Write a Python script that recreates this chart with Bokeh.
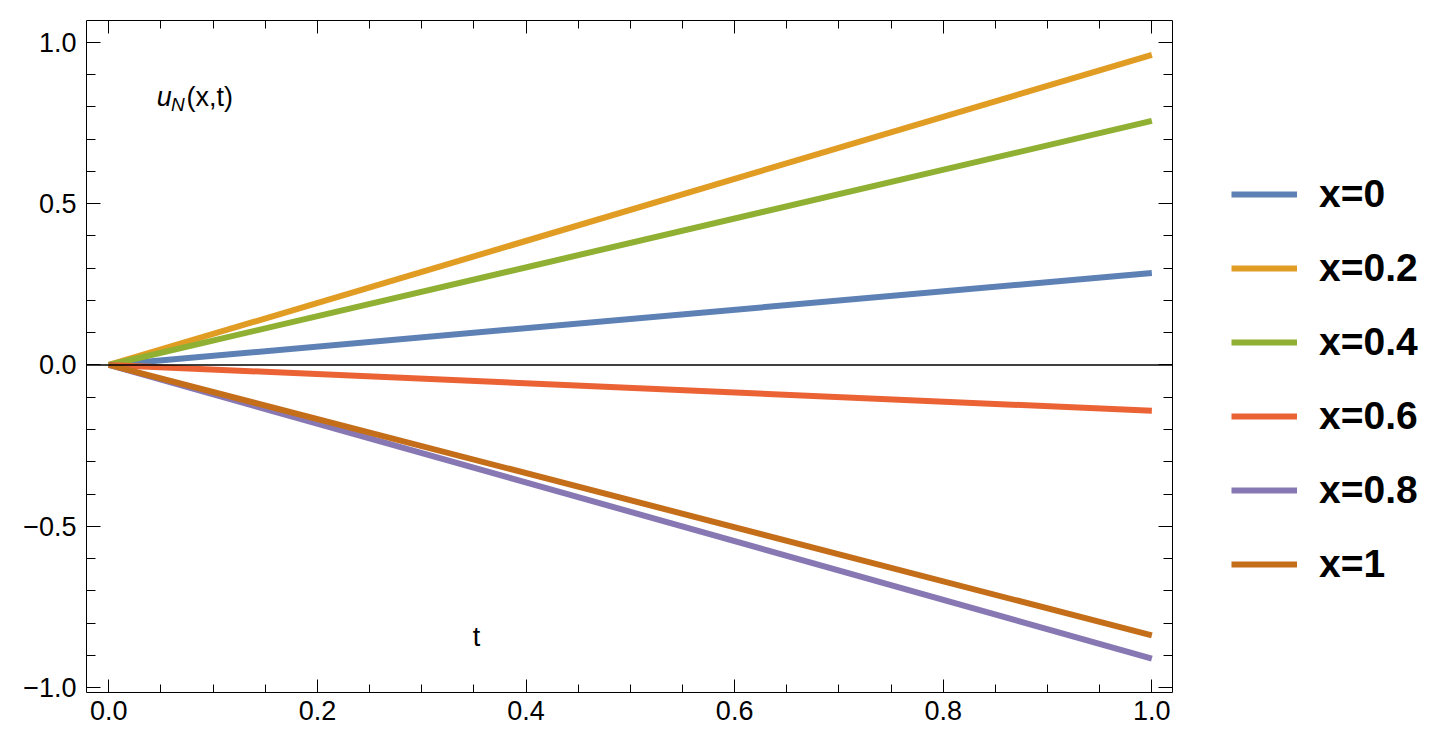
import numpy as np
from bokeh.plotting import figure
from bokeh.layouts import row
from bokeh.models import Range1d, LinearAxis, FixedTicker, Span, Label, Legend, LegendItem
from bokeh.embed import file_html
from bokeh.resources import INLINE

# data
t_vals = [0.0, 1.0]
series_names = ["x=0", "x=0.2", "x=0.4", "x=0.6", "x=0.8", "x=1"]
u_x0 = [0.0, 0.285]
u_x02 = [0.0, 0.961]
u_x04 = [0.0, 0.756]
u_x06 = [0.0, -0.142]
u_x08 = [0.0, -0.910]
u_x1 = [0.0, -0.838]
series_values = [u_x0, u_x02, u_x04, u_x06, u_x08, u_x1]
colors = ["#5E81B5", "#E19C24", "#8FB032", "#EB6235", "#8778B3", "#C56E1A"]

x_ticks = [0.0, 0.2, 0.4, 0.6, 0.8, 1.0]
x_tick_labels = ["0.0", "0.2", "0.4", "0.6", "0.8", "1.0"]
y_ticks = [-1.0, -0.5, 0.0, 0.5, 1.0]
y_tick_labels = ["\u22121.0", "\u22120.5", "0.0", "0.5", "1.0"]
x_minor = [round(v, 2) for v in np.arange(-0.05, 1.051, 0.05)]
y_minor = [round(v, 2) for v in np.arange(-1.1, 1.11, 0.1)]

FONT = "Liberation Sans"

p = figure(width=1182, height=733,
           x_range=Range1d(-0.0214, 1.0198), y_range=Range1d(-1.0148, 1.0672),
           output_backend="svg", toolbar_location=None,
           min_border_left=86, min_border_right=10, min_border_top=20, min_border_bottom=41)
p.outline_line_color = None
p.xgrid.visible = False
p.ygrid.visible = False

bottom_axis = p.below[0]
left_axis = p.left[0]
top_axis = LinearAxis()
right_axis = LinearAxis()
p.add_layout(top_axis, "above")
p.add_layout(right_axis, "right")

def style_axis(ax, ticks, minor, labels, major_len, minor_len, show_labels, standoff=8):
    ax.ticker = FixedTicker(ticks=ticks, minor_ticks=minor)
    ax.axis_line_color = "black"
    ax.axis_line_width = 1
    ax.major_tick_line_color = "black"
    ax.minor_tick_line_color = "black"
    ax.major_tick_in = major_len
    ax.major_tick_out = 0
    ax.minor_tick_in = minor_len
    ax.minor_tick_out = 0
    if show_labels:
        ax.major_label_overrides = {tk: lb for tk, lb in zip(ticks, labels)}
        ax.major_label_text_font = FONT
        ax.major_label_text_font_size = "27px"
        ax.major_label_text_color = "black"
        ax.major_label_standoff = standoff
    else:
        ax.major_label_overrides = {tk: "" for tk in ticks}
        ax.major_label_text_font_size = "1px"
        ax.major_label_standoff = 0

style_axis(bottom_axis, x_ticks, x_minor, x_tick_labels, 13, 8, True, 8)
style_axis(top_axis, x_ticks, x_minor, x_tick_labels, 13, 8, False)
style_axis(left_axis, y_ticks, y_minor, y_tick_labels, 14, 9, True, 10)
style_axis(right_axis, y_ticks, y_minor, y_tick_labels, 14, 9, False)

p.add_layout(Span(location=0, dimension="width", line_color="black", line_width=1.5))

for vals, col in zip(series_values, colors):
    p.line(t_vals, vals, line_color=col, line_width=6)

# axis labels (Mathematica-style placement)
p.add_layout(Label(x=0.046, y=0.8287, text="u", text_font=FONT, text_font_style="italic",
                   text_font_size="27px", text_baseline="alphabetic", text_color="black"))
p.add_layout(Label(x=0.0595, y=0.807, text="N", text_font=FONT, text_font_style="italic",
                   text_font_size="19px", text_baseline="alphabetic", text_color="black"))
p.add_layout(Label(x=0.0745, y=0.8287, text="(x,t)", text_font=FONT,
                   text_font_size="27px", text_baseline="alphabetic", text_color="black"))
p.add_layout(Label(x=0.349, y=-0.844, text="t", text_font=FONT,
                   text_font_size="27px", text_baseline="alphabetic", text_color="black"))

# legend panel (its lines lie outside its visible range; only the legend shows)
lg = figure(width=250, height=733, x_range=Range1d(10, 11), y_range=Range1d(10, 11),
            output_backend="svg", toolbar_location=None,
            min_border_left=0, min_border_right=0, min_border_top=0, min_border_bottom=0)
lg.outline_line_color = None
lg.xaxis.visible = False
lg.yaxis.visible = False
lg.xgrid.visible = False
lg.ygrid.visible = False

items = []
for name, vals, col in zip(series_names, series_values, colors):
    r = lg.line(t_vals, vals, line_color=col, line_width=6)
    items.append(LegendItem(label=name, renderers=[r]))

legend = Legend(items=items, location=(49, 91))
legend.glyph_width = 66
legend.glyph_height = 74
legend.label_height = 74
legend.spacing = 0
legend.padding = 0
legend.margin = 0
legend.label_standoff = 22
legend.border_line_alpha = 0
legend.background_fill_alpha = 0
legend.label_text_font = FONT
legend.label_text_font_style = "bold"
legend.label_text_font_size = "39px"
legend.label_text_color = "black"
lg.add_layout(legend)

layout = row(p, lg)
open("out.html", "w").write(file_html(layout, INLINE))
